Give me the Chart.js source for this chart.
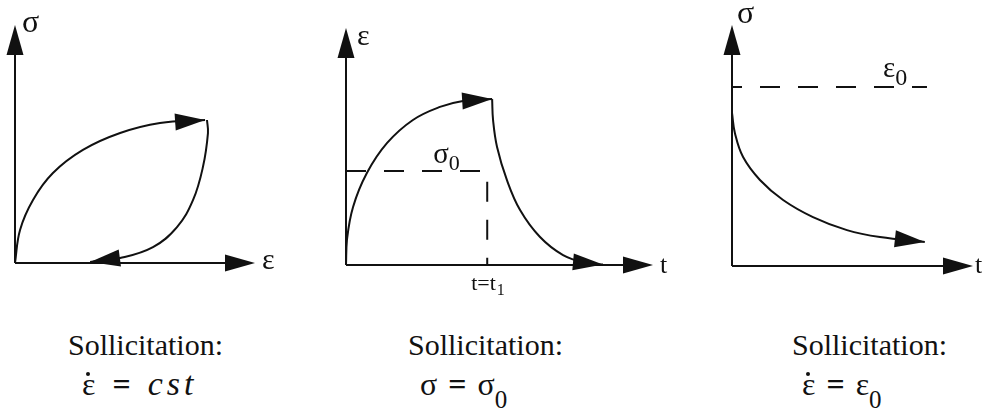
<!DOCTYPE html>
<html>
<head>
<meta charset="utf-8">
<title>Sollicitations</title>
<script src="https://cdn.jsdelivr.net/npm/chart.js@4.4.0/dist/chart.umd.min.js"></script>
<style>
  body { margin: 0; background: #fff; width: 982px; height: 411px; position: relative; overflow: hidden; color: #111; font-family: "Liberation Serif", "Times New Roman", serif; }
  canvas { position: absolute; top: 0; }
  .title { position: absolute; top: 330px; font-size: 30px; line-height: 30px; white-space: nowrap; }
  .formula { position: absolute; top: 368px; font-size: 32px; line-height: 32px; white-space: nowrap; }
  .formula .eq { display: inline-block; font-weight: bold; }
  .formula i { letter-spacing: 4px; font-size: 34px; }
  .formula sub { font-size: 25px; vertical-align: -13px; line-height: 0; }
  .dot { position: relative; display: inline-block; }
  .dot::after { content: ""; position: absolute; left: 32%; top: 4px; width: 4px; height: 4px; border-radius: 2px; background: #111; }
</style>
</head>
<body>
<canvas id="loading" width="300" height="300" style="left:0"></canvas>
<canvas id="creep" width="360" height="300" style="left:320px"></canvas>
<canvas id="relax" width="282" height="300" style="left:700px"></canvas>

<div class="title" style="left:68px">Sollicitation:</div>
<div class="formula" style="left:82px"><span class="dot">ε</span><span class="eq" style="margin:0 17px">=</span><i>cst</i></div>
<div class="title" style="left:408px">Sollicitation:</div>
<div class="formula" style="left:420px">σ<span class="eq" style="margin:0 11px">=</span>σ<sub>0</sub></div>
<div class="title" style="left:792px">Sollicitation:</div>
<div class="formula" style="left:802px"><span class="dot">ε</span><span class="eq" style="margin:0 11px">=</span>ε<sub>0</sub></div>

<script>
// stress-strain loop at constant strain rate
const loadStrain   = [0, 0.21, 0.75, 1.58, 2.83, 4.38, 6.04, 7.92];
const loadStress   = [0, 1.39, 2.65, 3.78, 4.75, 5.46, 5.88, 6.01];
const unloadStrain = [8.0, 8.04, 7.83, 7.42, 6.75, 5.75, 4.38, 3.13];
const unloadStress = [6.01, 5.46, 4.03, 2.65, 1.51, 0.67, 0.21, 0.04];

// creep under constant stress, then recovery after t1
const creepTime      = [0, 0.03, 0.23, 0.68, 1.34, 2.18, 3.06, 3.81, 4.76];
const creepStrain    = [0, 1.05, 2.45, 3.88, 5.15, 6.12, 6.67, 6.92, 7.0];
const recoveryTime   = [4.76, 4.79, 4.92, 5.24, 5.67, 6.32, 7.07, 7.85, 8.37];
const recoveryStrain = [7.0, 6.12, 4.98, 3.59, 2.32, 1.18, 0.42, 0.08, 0.02];
const stressLevel = 3.97;
const unloadTime  = 4.6;

// relaxation under constant strain
const relaxTime   = [0, 0.12, 0.46, 1.16, 2.12, 3.36, 4.77, 6.14, 8.0];
const relaxStress = [6.35, 5.52, 4.52, 3.57, 2.74, 2.03, 1.49, 1.2, 1.0];
const strainLevel = 7.43;
const strainLineEnd = 8.09;

const INK = '#111';
const ARROW_LEN = 30, ARROW_HALF = 8.5;

const pts = (xs, ys) => xs.map((x, i) => ({ x: x, y: ys[i] }));

function arrowHead(ctx, x, y, angle) {
  ctx.save();
  ctx.translate(x, y);
  ctx.rotate(angle);
  ctx.beginPath();
  ctx.moveTo(0, 0);
  ctx.lineTo(-ARROW_LEN, -ARROW_HALF);
  ctx.lineTo(-ARROW_LEN, ARROW_HALF);
  ctx.closePath();
  ctx.fill();
  ctx.restore();
}

// axes with arrow tips, arrowheads at curve ends, and the symbols
const sketchPlugin = {
  id: 'sketch',
  beforeDatasetsDraw(chart) {
    const { ctx, scales: { x, y } } = chart;
    const x0 = x.getPixelForValue(x.min), x1 = x.getPixelForValue(x.max);
    const y0 = y.getPixelForValue(y.min), y1 = y.getPixelForValue(y.max);
    ctx.save();
    ctx.strokeStyle = INK; ctx.fillStyle = INK; ctx.lineWidth = 2;
    ctx.beginPath();
    ctx.moveTo(x0, y0); ctx.lineTo(x1 - 10, y0);
    ctx.moveTo(x0, y0); ctx.lineTo(x0, y1 + 10);
    ctx.stroke();
    arrowHead(ctx, x1, y0, 0);
    arrowHead(ctx, x0, y1, -Math.PI / 2);
    ctx.restore();
  },
  afterDatasetsDraw(chart) {
    const { ctx } = chart;
    ctx.save();
    ctx.fillStyle = INK;
    chart.data.datasets.forEach((ds, i) => {
      if (!ds.arrow) return;
      const els = chart.getDatasetMeta(i).data;
      const a = els[els.length - 2], b = els[els.length - 1];
      arrowHead(ctx, b.x, b.y, Math.atan2(b.y - a.y, b.x - a.x));
    });
    ctx.restore();
  },
  afterDraw(chart, args, opts) {
    const { ctx, scales: { x, y } } = chart;
    ctx.save();
    ctx.fillStyle = INK;
    ctx.textAlign = 'left';
    ctx.textBaseline = 'alphabetic';
    (opts.labels || []).forEach(l => {
      let px, py;
      if (l.at === 'xTip') { px = x.getPixelForValue(x.max); py = y.getPixelForValue(y.min); }
      else if (l.at === 'yTip') { px = x.getPixelForValue(x.min); py = y.getPixelForValue(y.max); }
      else { px = x.getPixelForValue(l.at[0]); py = y.getPixelForValue(l.at[1]); }
      px += l.dx; py += l.dy;
      ctx.font = l.font;
      ctx.fillText(l.text, px, py);
      if (l.sub) {
        const w = ctx.measureText(l.text).width;
        ctx.font = l.subFont;
        ctx.fillText(l.sub, px + w + (l.subDx || 0), py + l.subDy);
      }
    });
    ctx.restore();
  }
};

const curve = (data, extra) => Object.assign({
  data: data, borderColor: INK, borderWidth: 2, tension: 0.4,
  pointRadius: 0, fill: false, clip: false
}, extra || {});

const dashed = (data, extra) => Object.assign({
  data: data, borderColor: INK, borderWidth: 2, tension: 0,
  pointRadius: 0, fill: false, clip: false, borderDash: [20, 18]
}, extra || {});

function makeChart(id, padding, datasets, labels) {
  return new Chart(document.getElementById(id), {
    type: 'line',
    data: { datasets: datasets },
    options: {
      responsive: false,
      animation: false,
      events: [],
      layout: { padding: padding },
      scales: {
        x: { type: 'linear', min: 0, max: 10, display: false },
        y: { type: 'linear', min: 0, max: 10, display: false }
      },
      plugins: {
        legend: { display: false },
        tooltip: { enabled: false },
        sketch: { labels: labels }
      }
    },
    plugins: [sketchPlugin]
  });
}

const SERIF = '"Liberation Serif", "Times New Roman", serif';

makeChart('loading', { left: 15, top: 25, right: 45, bottom: 37 }, [
  curve(pts(loadStrain, loadStress), { arrow: true }),
  curve(pts(unloadStrain, unloadStress), { arrow: true })
], [
  { text: 'σ', at: 'yTip', dx: 7, dy: 7, font: '32px ' + SERIF },
  { text: 'ε', at: 'xTip', dx: 7, dy: 6, font: '30px ' + SERIF }
]);

makeChart('creep', { left: 26, top: 28, right: 27, bottom: 35 }, [
  curve(pts(creepTime, creepStrain), { arrow: true }),
  curve(pts(recoveryTime, recoveryStrain), { arrow: true }),
  dashed(pts([0, unloadTime, unloadTime], [stressLevel, stressLevel, 0]))
], [
  { text: 'ε', at: 'yTip', dx: 11, dy: 17, font: '30px ' + SERIF },
  { text: 't', at: 'xTip', dx: 7, dy: 8, font: '26px ' + SERIF },
  { text: 'σ', sub: '0', at: [unloadTime, stressLevel], dx: -54, dy: -8,
    font: '29px ' + SERIF, subFont: '22px ' + SERIF, subDy: 7 },
  { text: 't=t', sub: '1', at: [unloadTime, 0], dx: -16, dy: 25,
    font: '22px ' + SERIF, subFont: '16px ' + SERIF, subDy: 5, subDx: 1 }
]);

makeChart('relax', { left: 32, top: 25, right: 9, bottom: 34 }, [
  curve(pts(relaxTime, relaxStress), { arrow: true }),
  dashed(pts([0, strainLineEnd], [strainLevel, strainLevel]), { borderDashOffset: 10 })
], [
  { text: 'σ', at: 'yTip', dx: 5, dy: -2, font: '32px ' + SERIF },
  { text: 't', at: 'xTip', dx: 2, dy: 7, font: '26px ' + SERIF },
  { text: 'ε', sub: '0', at: [strainLineEnd, strainLevel], dx: -44, dy: -10,
    font: '29px ' + SERIF, subFont: '24px ' + SERIF, subDy: 8 }
]);
</script>
</body>
</html>
